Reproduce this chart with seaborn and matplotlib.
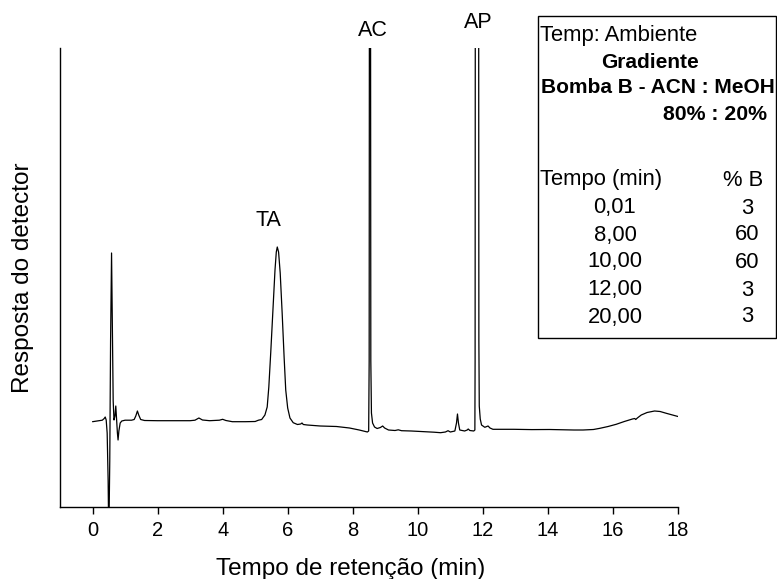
import matplotlib
matplotlib.use("Agg")
import matplotlib.pyplot as plt
import matplotlib.patches as patches
import seaborn as sns
import pandas as pd

# Chromatogram trace (time in min, detector signal in arbitrary units)
time_min = [
    0.00, 0.15, 0.30, 0.36, 0.39, 0.42, 0.45, 0.48, 0.50, 0.53, 0.555, 0.585, 0.61, 0.635,
    0.66, 0.69, 0.715, 0.74, 0.765, 0.785, 0.81, 0.85, 0.90, 1.00, 1.20, 1.28, 1.33, 1.38,
    1.42, 1.48, 1.60, 2.00, 2.50, 3.00, 3.15, 3.27, 3.38, 3.60, 3.90, 4.00, 4.10, 4.30,
    4.70, 5.00, 5.10, 5.20, 5.30, 5.37, 5.42, 5.48, 5.55, 5.61, 5.65, 5.68, 5.72, 5.77,
    5.83, 5.89, 5.94, 6.00, 6.07, 6.17, 6.30, 6.40, 6.44, 6.48, 6.60, 7.00, 7.50, 7.90,
    8.20, 8.45, 8.49, 8.505, 8.512, 8.548, 8.556, 8.575, 8.61, 8.67, 8.75, 8.85, 8.92,
    8.98, 9.10, 9.30, 9.40, 9.50, 9.80, 10.20, 10.50, 10.70, 10.85, 10.93, 11.00, 11.14,
    11.19, 11.22, 11.25, 11.29, 11.44, 11.52, 11.55, 11.60, 11.72, 11.755, 11.762, 11.768,
    11.872, 11.878, 11.89, 11.92, 11.96, 12.06, 12.12, 12.16, 12.22, 12.31, 12.60, 12.95,
    13.50, 14.05, 14.80, 15.08, 15.40, 15.60, 15.85, 16.10, 16.35, 16.60, 16.67, 16.70,
    16.75, 16.87, 17.05, 17.28, 17.45, 17.64, 17.95, 18.00,
]
signal = [
    -0.7, 0.0, 0.8, 2.5, 4.0, 1.0, -12, -60, -120, -40, 80, 168, 90, 20,
    1, 5, 15, 2, -12, -19, -10, -2, 0, 0.8, 0.8, 1.5, 5, 10,
    6, 1.5, 0.5, 0.3, 0.3, 0.3, 0.8, 3.0, 1.0, 0.3, 0.8, 1.7, 0.5, -0.7,
    -0.7, -0.5, 0.8, 1.5, 6, 14, 34, 69, 114, 151, 169, 174, 169, 148,
    108, 64, 31, 13, 3, -1.7, -3.5, -3.0, -2.0, -3.5, -4.0, -5.0, -5.5, -7.0,
    -9.0, -11, -10, 60, 420, 420, 60, 8, -2, -6, -7.5, -6.5, -5.0,
    -7.0, -9.0, -9.5, -8.8, -9.7, -10, -10.7, -11.2, -11.7, -11, -9.7, -11, -10,
    -2, 7, -2, -9, -10, -9, -8, -9.5, -10, -9, 60, 420,
    420, 80, 15, 2, -4, -6.3, -5.5, -5, -7, -8.3, -8.3, -8.3,
    -8.6, -8.5, -9, -9, -8.5, -7.3, -5.5, -3.3, -0.5, 2, 2.5, 1.5,
    3, 6, 8.5, 10, 9.5, 7.7, 5, 4.5,
]

peak_names = ["TA", "AC", "AP"]
peak_label_x = [5.42, 8.62, 11.87]
peak_label_y = [201, 390, 399]

x_ticks = [0, 2, 4, 6, 8, 10, 12, 14, 16, 18]

table_head = ["Temp: Ambiente", "Gradiente", "Bomba B - ACN : MeOH", "80% : 20%"]
grad_time = ["0,01", "8,00", "10,00", "12,00", "20,00"]
grad_B = ["3", "60", "60", "3", "3"]

df = pd.DataFrame({"t": time_min, "s": signal})

sns.set_style("ticks")
plt.rcParams["font.family"] = ["Liberation Sans", "DejaVu Sans"]

W, H = 777, 579
fig = plt.figure(figsize=(W / 100, H / 100), dpi=100)
ax = fig.add_axes([60 / W, (H - 507) / H, 618 / W, 459 / H])

sns.lineplot(data=df, x="t", y="s", estimator=None, sort=False, color="black",
             linewidth=0.9, ax=ax)

ax.set_xlim(-1, 18)
ax.set_ylim(-86, 373)
ax.set_xticks(x_ticks)
ax.set_xticks([v + 1 for v in range(-1, 18, 2)], minor=True)
ax.set_yticks([])
ax.tick_params(axis="x", which="major", direction="out", length=5, width=1,
               labelsize=14.5, pad=5, color="black", labelcolor="black")
ax.tick_params(axis="x", which="minor", direction="out", length=3, width=1, color="black")
for side in ["top", "right"]:
    ax.spines[side].set_visible(False)
for side in ["left", "bottom"]:
    ax.spines[side].set_color("black")
    ax.spines[side].set_linewidth(1)

ax.set_xlabel("Tempo de retenção (min)", fontsize=17.5, labelpad=13, color="black")
ax.xaxis.label.set_x(0.471)
ax.set_ylabel("Resposta do detector", fontsize=17.5, labelpad=19, color="black")

for name, px, py in zip(peak_names, peak_label_x, peak_label_y):
    ax.text(px, py, name, fontsize=15.5, ha="center", va="center", clip_on=False,
            color="black")

# Gradient table box
fig.patches.append(patches.Rectangle((538 / W, (H - 338) / H), (776 - 538) / W,
                                     (338 - 16) / H, transform=fig.transFigure,
                                     fill=False, edgecolor="black", linewidth=1))

def ftxt(x, y, s, size=15.8, **kw):
    fig.text(x / W, 1 - y / H, s, fontsize=size, va="center", color="black", **kw)

ftxt(540, 35, table_head[0], ha="left")
ftxt(650, 62, table_head[1], size=15, ha="center", fontweight="bold")
ftxt(658, 88, table_head[2], size=15, ha="center", fontweight="bold")
ftxt(767, 115, table_head[3], size=15.3, ha="right", fontweight="bold")
ftxt(540, 180, "Tempo (min)", ha="left")
ftxt(743, 180, "% B", ha="center")
row_y = [208, 235, 262, 290, 317]
for ty, tv, bv in zip(row_y, grad_time, grad_B):
    ftxt(615, ty, tv, ha="center")
    ftxt(747, ty, bv, ha="center")

fig.savefig("out.png", dpi=100, facecolor="white")
